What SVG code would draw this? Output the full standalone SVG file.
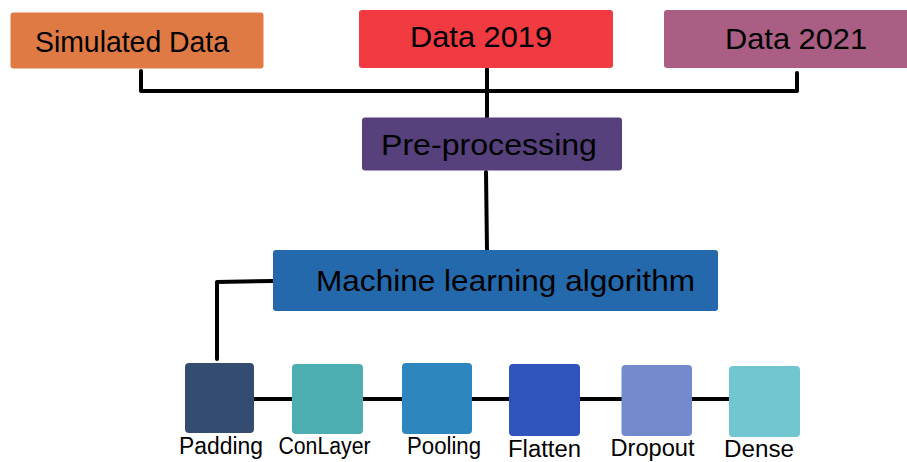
<svg xmlns="http://www.w3.org/2000/svg" width="907" height="462" viewBox="0 0 907 462">
<style>
.lbl{font-family:"Liberation Sans",Arial,sans-serif;fill:#000}
.big{font-size:30px}
.sm{font-size:23px}
.conn{stroke:#000;stroke-width:4;fill:none;stroke-linecap:round;stroke-linejoin:round}
</style>
<rect width="907" height="462" fill="#fff"/>
<g id="connectors">
<polyline class="conn" points="141,71 141,91 797,91 797,73"/>
<line class="conn" x1="487" y1="69" x2="487" y2="117"/>
<line class="conn" x1="486" y1="172" x2="487" y2="251"/>
<polyline class="conn" points="273,281 217,282 217,359"/>
<line class="conn" x1="254" y1="399" x2="729" y2="399"/>
</g>
<g id="simulated-data">
<rect x="10.5" y="12.5" width="253" height="56" rx="3" fill="#DF7A45"/>
<text class="lbl big" x="35" y="51.5" textLength="194" lengthAdjust="spacingAndGlyphs">Simulated Data</text>
</g>
<g id="data-2019">
<rect x="359" y="10" width="254" height="58" rx="3" fill="#F23B41"/>
<text class="lbl big" x="410" y="47" textLength="142" lengthAdjust="spacingAndGlyphs">Data 2019</text>
</g>
<g id="data-2021">
<rect x="664" y="10" width="250" height="58" rx="3" fill="#AB5E84"/>
<text class="lbl big" x="725" y="49.3" textLength="142" lengthAdjust="spacingAndGlyphs">Data 2021</text>
</g>
<g id="pre-processing">
<rect x="362" y="117.5" width="260" height="53" rx="3" fill="#56417D"/>
<text class="lbl big" x="381" y="155" font-size="31" textLength="216" lengthAdjust="spacingAndGlyphs">Pre-processing</text>
</g>
<g id="ml-algorithm">
<rect x="273" y="250" width="445" height="61" rx="3" fill="#2369AC"/>
<text class="lbl big" x="316" y="291" textLength="379" lengthAdjust="spacingAndGlyphs">Machine learning algorithm</text>
</g>
<g id="padding">
<rect x="185" y="363" width="69" height="70" rx="4" fill="#354C72"/>
<text class="lbl sm" x="179" y="454" textLength="84" lengthAdjust="spacingAndGlyphs">Padding</text>
</g>
<g id="conlayer">
<rect x="292" y="364" width="71" height="70" rx="4" fill="#4CAEB0"/>
<text class="lbl sm" x="278.5" y="454" textLength="92" lengthAdjust="spacingAndGlyphs">ConLayer</text>
</g>
<g id="pooling">
<rect x="402" y="363" width="70" height="71" rx="4" fill="#2D86BD"/>
<text class="lbl sm" x="407" y="454" textLength="74" lengthAdjust="spacingAndGlyphs">Pooling</text>
</g>
<g id="flatten">
<rect x="509" y="364" width="71" height="72" rx="4" fill="#2F55BC"/>
<text class="lbl sm" x="508" y="457" textLength="73" lengthAdjust="spacingAndGlyphs">Flatten</text>
</g>
<g id="dropout">
<rect x="621.5" y="365" width="70.5" height="71" rx="4" fill="#738ACC"/>
<text class="lbl sm" x="610.5" y="456" textLength="84" lengthAdjust="spacingAndGlyphs">Dropout</text>
</g>
<g id="dense">
<rect x="729" y="366" width="71" height="71" rx="4" fill="#71C6CF"/>
<text class="lbl sm" x="724" y="457" textLength="70" lengthAdjust="spacingAndGlyphs">Dense</text>
</g>
</svg>
